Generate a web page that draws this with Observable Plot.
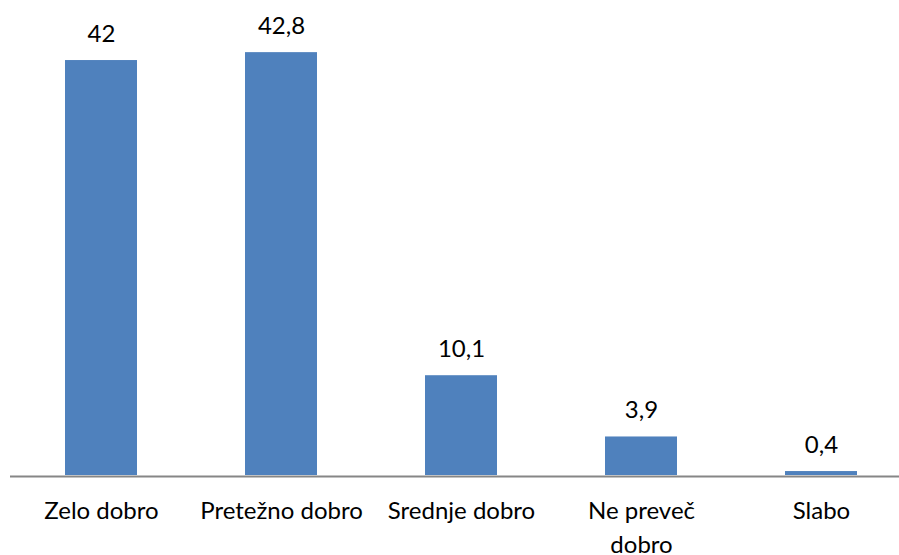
<!DOCTYPE html>
<html>
<head>
<meta charset="utf-8">
<script src="https://cdn.jsdelivr.net/npm/d3@7"></script>
<script src="https://cdn.jsdelivr.net/npm/@observablehq/plot@0.6"></script>
<style>
  html, body { margin: 0; padding: 0; background: #fff; }
  svg { display: block; }
</style>
</head>
<body>
<div id="chart"></div>
<script>
const categories = ["Zelo dobro", "Pretežno dobro", "Srednje dobro", "Ne preveč dobro", "Slabo"];
const tickLabels = ["Zelo dobro", "Pretežno dobro", "Srednje dobro", "Ne preveč\ndobro", "Slabo"];
const values = [42, 42.8, 10.1, 3.9, 0.4];

const data = categories.map((c, i) => ({cat: c, value: values[i], tick: tickLabels[i]}));
const fmt = v => String(v).replace(".", ",");
const font = "Lato, 'Open Sans', sans-serif";

const chart = Plot.plot({
  width: 899,
  height: 555,
  marginLeft: 10,
  marginRight: 0,
  marginTop: 0,
  marginBottom: 0,
  style: {background: "#fff", fontFamily: font},
  x: {type: "band", domain: categories, range: [11, 911], paddingInner: 0.6, paddingOuter: 0.3, axis: null},
  y: {domain: [0, 45], range: [475, 475 - 45 * 9.88], axis: null},
  marks: [
    Plot.barY(data, {x: "cat", y: "value", fill: "#4F81BD"}),
    Plot.ruleY([0], {stroke: "#868686", strokeWidth: 2, dy: 1}),
    Plot.text(data, {x: "cat", y: "value", text: d => fmt(d.value), lineAnchor: "middle", dy: -26.7, fontSize: 24, fill: "#000"}),
    Plot.text(data, {x: "cat", y: () => 0, text: "tick", lineAnchor: "top", dy: 20, fontSize: 24, lineHeight: 1.4, fill: "#000"})
  ]
});
document.getElementById("chart").appendChild(chart);
</script>
</body>
</html>
